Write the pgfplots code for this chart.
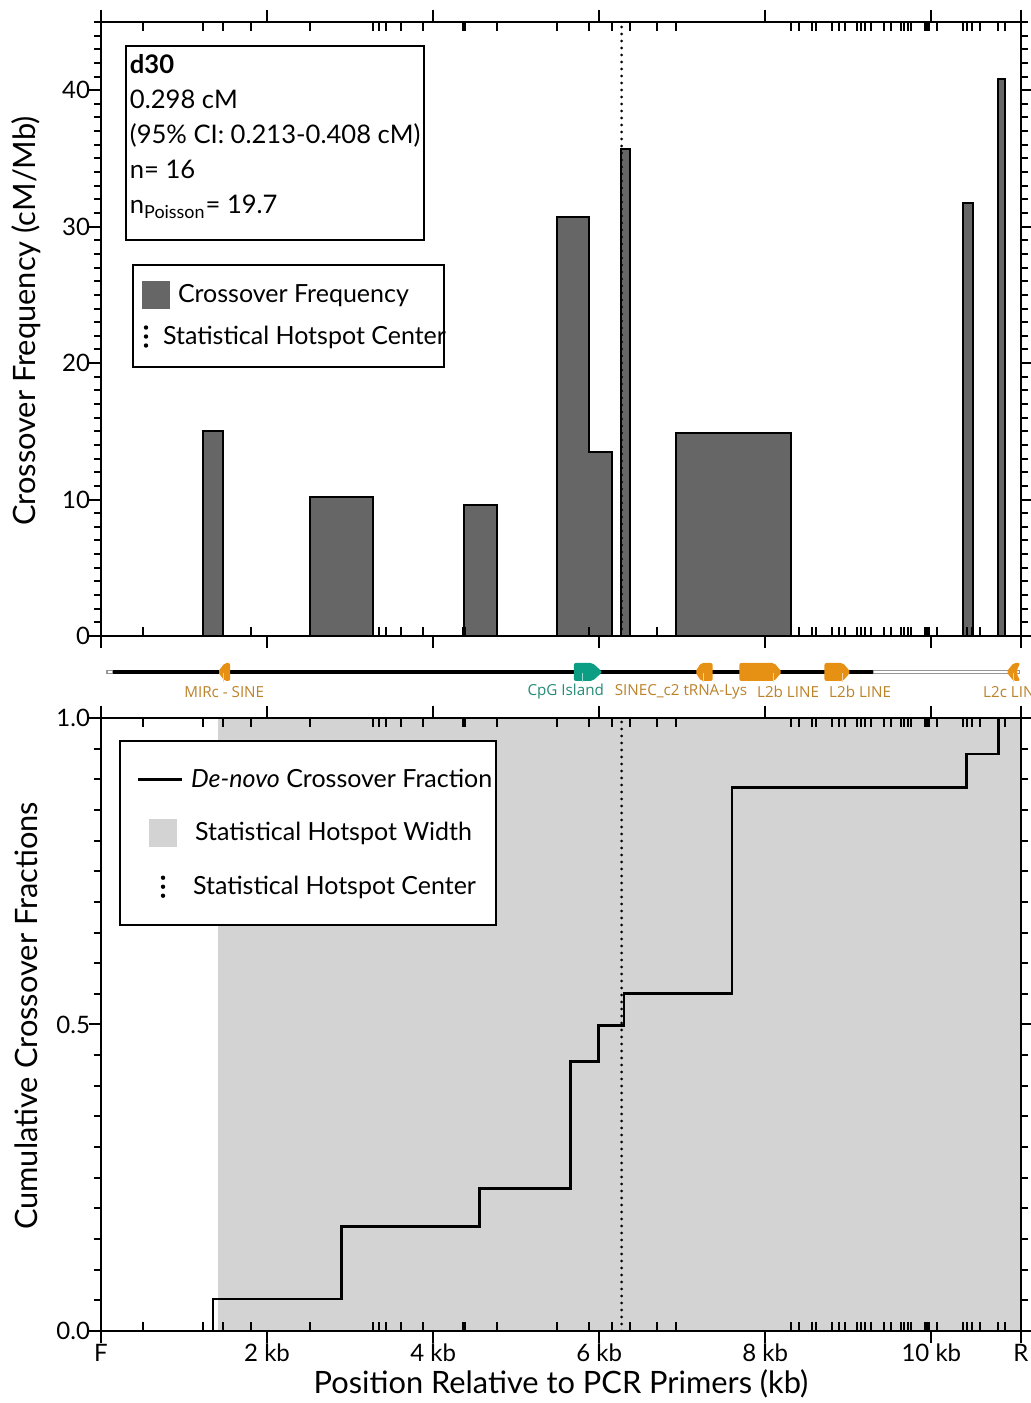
\documentclass[border=0pt]{standalone}
\usepackage{pgfplots}
\pgfplotsset{compat=1.18}
\usepackage{fontspec}
\setmainfont{Lato}
\newfontfamily\trackfont{Open Sans}

\definecolor{histgray}{RGB}{102,102,102}
\definecolor{widthgray}{RGB}{211,211,211}
\definecolor{featorange}{RGB}{230,145,20}
\definecolor{labelorange}{RGB}{188,130,42}
\definecolor{featteal}{RGB}{12,158,132}
\definecolor{labelteal}{RGB}{36,138,118}
\definecolor{trackgray}{RGB}{150,150,150}

% genotyped marker positions (kb), shown as a rug along the axis edges
\def\markers{0.510,1.234,1.475,1.806,2.521,3.277,3.350,3.438,3.607,3.872,4.361,4.385,4.765,5.489,5.878,6.160,6.373,6.695,6.928,8.311,8.408,8.561,8.616,8.802,8.882,8.963,9.107,9.156,9.204,9.276,9.429,9.509,9.630,9.671,9.719,9.750,9.921,9.946,9.970,10.072,10.382,10.434,10.491,10.587,10.804,10.884}

\tikzset{
  centerdots/.style={black, line width=1.4pt, line cap=round, dash pattern=on 0pt off 3.5pt},
  legenddots/.style={black, line width=2.2pt, line cap=round, dash pattern=on 0pt off 4.5pt},
  trklabel/.style={font=\trackfont\fontsize{7.6}{9}\selectfont, inner sep=0pt},
  spacer/.style={draw=none, fill=none},
}

\pgfplotsset{
  kbaxis/.style={
    scale only axis, width=460pt,
    xmin=0, xmax=11.08,
    axis line style={line width=1pt},
    axis on top,
    tick align=outside,
    major tick length=6pt, minor tick length=3.5pt,
    tick style={black, line width=1pt},
    xtick={0,2,4,6,8,10,11.08},
    xtick pos=both, ytick pos=both,
    extra x ticks=\markers,
    extra x tick labels={},
    extra x tick style={tick align=inside, major tick length=4.5pt},
    tick label style={font=\fontsize{12}{14}\selectfont},
    xticklabel style={yshift=3pt},
    yticklabel style={xshift=4pt},
    label style={font=\fontsize{15.4}{18}\selectfont},
    /pgf/number format/assume math mode=true,
    legend cell align=left,
  },
}

\begin{document}
\begin{tikzpicture}
\useasboundingbox (0,0) rectangle (515.5pt,701.5pt);

% ---------------- crossover frequency histogram ----------------
\begin{axis}[kbaxis, at={(50.5pt,383.5pt)}, anchor=south west, height=307pt,
  ymin=0, ymax=45, ytick={0,10,20,30,40}, minor ytick={0,1,...,45},
  xticklabels={},
  ylabel={Crossover Frequency (cM/Mb)},
  ylabel style={at={(axis description cs:-0.0815,0.513)}, anchor=center},
  legend style={at={(axis description cs:0.0337,0.606)}, anchor=north west,
    draw=black, line width=1pt, font=\fontsize{12.5}{15}\selectfont,
    row sep=6pt, inner xsep=0pt, inner ysep=7.8pt}]
\addplot[const plot mark left, fill=histgray, draw=black, line width=1pt, forget plot] table {
x y
0 0
1.234 15.0
1.475 0
2.521 10.2
3.277 0
4.370 9.6
4.765 0
5.489 30.7
5.878 13.5
6.160 0
6.262 35.7
6.373 0
6.928 14.9
8.311 0
10.385 31.7
10.505 0
10.804 40.8
10.884 0
11.08 0
} \closedcycle;
\addplot[centerdots, forget plot] coordinates {(6.27,0) (6.27,45)};
\addlegendimage{legend image code/.code={\path[spacer] (0pt,0pt) -- (20.5pt,0pt);\fill[histgray, draw=none] (4.5pt,-7pt) rectangle (18.5pt,7pt);}}
\addlegendentry{Crossover Frequency}
\addlegendimage{legend image code/.code={\path[spacer] (0pt,0pt) -- (20.5pt,0pt);\draw[legenddots] (6.5pt,-4.6pt) -- (6.5pt,4.7pt);}}
\addlegendentry{\hspace*{-7.5pt}Statistical Hotspot Center\hspace*{-3pt}}
\node[draw=black, line width=1pt, anchor=north west, align=left, inner xsep=2pt, inner ysep=0pt,
      minimum width=148.5pt, minimum height=97pt, font=\fontsize{12.8}{17.5}\selectfont]
  at (axis description cs:0.026,0.9625)
  {\textbf{d30}\\0.298 cM\\(95\% CI: 0.213-0.408 cM)\\n= 16\\n\textsubscript{Poisson}= 19.7\rule[-9pt]{0pt}{9pt}};
\end{axis}

% ---------------- annotation track ----------------
\begin{axis}[scale only axis, width=460pt, height=25pt, at={(50.5pt,351.5pt)}, anchor=south west,
  xmin=0, xmax=11.08, ymin=0, ymax=50, hide axis, clip=false]
\addplot[fill=white, draw=trackgray, line width=0.6pt] coordinates {(0.072,26.5) (0.072,29.5) (0.145,29.5) (0.145,26.5)} -- cycle;
\addplot[black, line width=2pt] coordinates {(0.145,28) (9.30,28)};
\addplot[fill=white, draw=trackgray, line width=0.6pt] coordinates {(9.30,26.5) (9.30,29.5) (11.06,29.5) (11.06,26.5)} -- cycle;
% repeat elements
\addplot[fill=featorange, draw=none, rounded corners=1pt] coordinates {(1.407,28) (1.49,37) (1.555,37) (1.555,19) (1.49,19)} -- cycle;
\addplot[fill=featorange, draw=none, rounded corners=1pt] coordinates {(7.157,28) (7.226,37) (7.366,37) (7.366,19) (7.226,19)} -- cycle;
\addplot[fill=featorange, draw=none, rounded corners=1pt] coordinates {(7.688,19) (7.688,37) (8.109,37) (8.199,28) (8.109,19)} -- cycle;
\addplot[fill=featorange, draw=none, rounded corners=1pt] coordinates {(8.713,19) (8.713,37) (8.935,37) (9.027,28) (8.935,19)} -- cycle;
\addplot[fill=featorange, draw=none, rounded corners=1pt] coordinates {(10.905,28) (10.99,37) (11.07,37) (11.02,28) (11.07,19) (10.99,19)} -- cycle;
% CpG island
\addplot[fill=featteal, draw=none, rounded corners=1pt] coordinates {(5.695,19) (5.695,37) (5.92,37) (6.038,28) (5.92,19)} -- cycle;
% feature anchors
\addplot[white!60!featorange, line width=0.6pt] coordinates {(1.475,17.5) (1.475,27)};
\addplot[white!60!featteal, line width=0.6pt] coordinates {(5.80,17.5) (5.80,27)};
\addplot[white!60!featorange, line width=0.6pt] coordinates {(7.257,17.5) (7.257,27)};
\addplot[white!60!featorange, line width=0.6pt] coordinates {(8.10,17.5) (8.10,27)};
\addplot[white!60!featorange, line width=0.6pt] coordinates {(8.926,17.5) (8.926,27)};
\addplot[white!60!featorange, line width=0.6pt] coordinates {(10.985,17.5) (10.985,27)};
\node[trklabel, text=labelorange] at (axis cs:1.484,8) {MIRc - SINE};
\node[trklabel, text=labelteal] at (axis cs:5.597,8) {CpG Island};
\node[trklabel, text=labelorange] at (axis cs:6.984,8) {SINEC\_c2 tRNA-Lys};
\node[trklabel, text=labelorange] at (axis cs:8.275,8) {L2b LINE};
\node[trklabel, text=labelorange] at (axis cs:9.143,8) {L2b LINE};
\node[trklabel, text=labelorange, anchor=west] at (axis cs:10.62,8) {L2c LINE};
\end{axis}

% ---------------- cumulative crossover fraction ----------------
\begin{axis}[kbaxis, at={(50.5pt,36pt)}, anchor=south west, height=306.5pt,
  ymin=0, ymax=1, ytick={0,0.5,1}, minor ytick={0,0.05,...,1},
  xticklabels={F,2 kb,4 kb,6 kb,8 kb,10 kb,R},
  yticklabel style={/pgf/number format/.cd, fixed, fixed zerofill, precision=1},
  xlabel={Position Relative to PCR Primers (kb)},
  xlabel style={at={(axis description cs:0.5,-0.0865)}, anchor=center},
  ylabel={Cumulative Crossover Fractions},
  ylabel style={at={(axis description cs:-0.0815,0.514)}, anchor=center},
  legend style={at={(axis description cs:0.0196,0.964)}, anchor=north west,
    draw=black, line width=1pt, font=\fontsize{12.5}{15}\selectfont,
    row sep=12pt, inner xsep=0pt, inner ysep=12pt}]
\addplot[fill=widthgray, draw=none, forget plot] coordinates {(1.41,0) (1.41,1) (11.08,1) (11.08,0)} \closedcycle;
\addplot[centerdots, forget plot] coordinates {(6.27,0) (6.27,1)};
\addplot[const plot mark left, black, line width=1.3pt, forget plot] coordinates {
  (1.351,0) (1.351,0.052) (2.895,0.170) (4.560,0.232) (5.657,0.440) (5.995,0.498)
  (6.297,0.551) (7.600,0.887) (10.42,0.941) (10.81,1.0) (11.08,1.0)};
\addlegendimage{legend image code/.code={\path[spacer] (0pt,0pt) -- (33.5pt,0pt);\draw[black, line width=1.3pt] (9pt,0pt) -- (31pt,0pt);}}
\addlegendentry{\textit{De-novo} Crossover Fraction}
\addlegendimage{legend image code/.code={\path[spacer] (0pt,0pt) -- (33.5pt,0pt);\fill[widthgray, draw=none] (14.5pt,-7pt) rectangle (28.5pt,7pt);}}
\addlegendentry{\hspace*{2pt}Statistical Hotspot Width}
\addlegendimage{legend image code/.code={\path[spacer] (0pt,0pt) -- (33.5pt,0pt);\draw[legenddots] (21.5pt,-4.6pt) -- (21.5pt,4.7pt);}}
\addlegendentry{\hspace*{1pt}Statistical Hotspot Center}
\end{axis}
\end{tikzpicture}
\end{document}
